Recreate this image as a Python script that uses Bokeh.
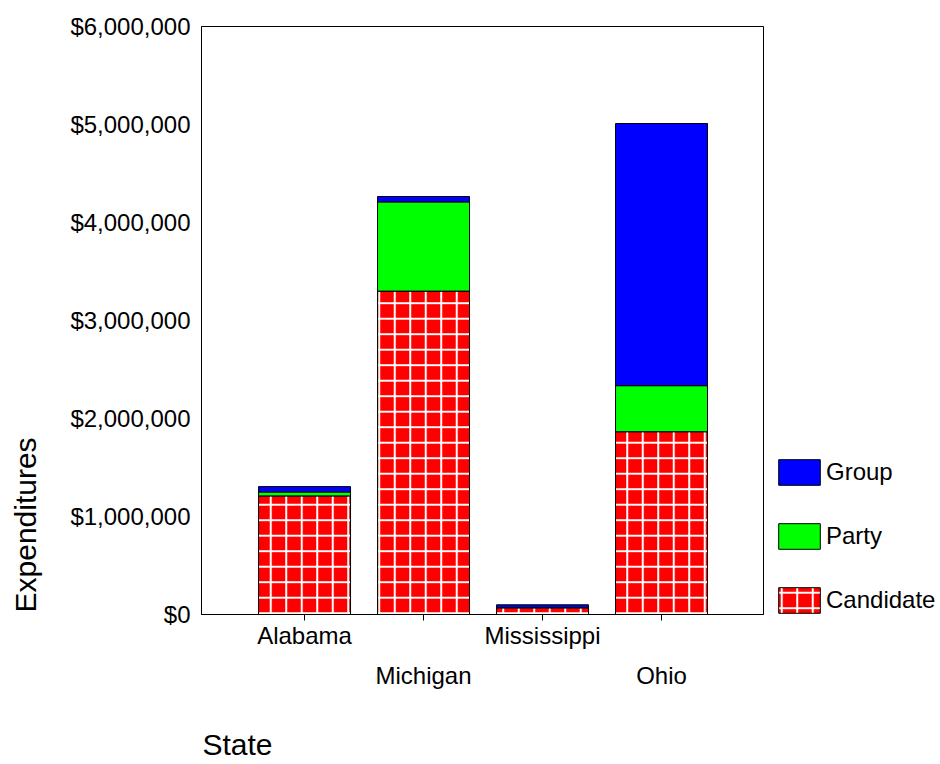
import math
from bokeh.plotting import figure
from bokeh.layouts import row, column
from bokeh.models import (Range1d, FixedTicker, NumeralTickFormatter, LinearAxis,
                          Legend, LegendItem, ColumnDataSource, Label)
from bokeh.embed import file_html
from bokeh.resources import INLINE

states = ["Alabama", "Michigan", "Mississippi", "Ohio"]
state_x = [1, 2, 3, 4]
candidate = [1210000, 3300000, 68000, 1865000]
party = [40000, 910000, 3000, 470000]
group = [55000, 55000, 28000, 2675000]
y_ticks = [0, 1000000, 2000000, 3000000, 4000000, 5000000, 6000000]
series = ["Candidate", "Party", "Group"]
colors = ["#FF0000", "#00FF00", "#0000FF"]
hatches = ["+", " ", " "]
x_title = "State"
y_title = "Expenditures"

FONT = "Liberation Sans"


def bare(fig):
    fig.outline_line_color = None
    fig.background_fill_color = "white"
    fig.border_fill_color = "white"
    return fig


src = ColumnDataSource(dict(x=state_x, Candidate=candidate, Party=party, Group=group))

# ---- main chart ----
p = figure(width=728, height=700, output_backend="svg", toolbar_location=None,
           x_range=Range1d(0.134, 4.857), y_range=Range1d(0, 6000000),
           min_border_left=156, min_border_right=10, min_border_top=26,
           min_border_bottom=86, x_axis_type=None, y_axis_type=None)
p.outline_line_color = "black"
p.outline_line_width = 1
p.background_fill_color = "white"
p.border_fill_color = "white"

rs = p.vbar_stack(series, x="x", width=0.773, source=src,
                  fill_color=colors, line_color="black", line_width=1,
                  hatch_pattern=hatches, hatch_color="white",
                  hatch_weight=2, hatch_scale=15.5)

yax = LinearAxis(ticker=FixedTicker(ticks=y_ticks),
                 formatter=NumeralTickFormatter(format="$0,0"))
yax.major_label_text_font = FONT
yax.major_label_text_font_size = "24px"
yax.major_label_text_color = "black"
yax.major_tick_out = 0
yax.major_tick_in = 0
yax.minor_tick_out = 0
yax.minor_tick_in = 0
yax.major_label_standoff = 11
yax.axis_line_color = "black"
p.add_layout(yax, "left")

xax1 = LinearAxis(ticker=FixedTicker(ticks=state_x))
xax1.major_label_overrides = {1: states[0], 2: "", 3: states[2], 4: ""}
xax1.major_label_text_font = FONT
xax1.major_label_text_font_size = "24px"
xax1.major_label_text_color = "black"
xax1.major_tick_out = 6
xax1.major_tick_in = 0
xax1.minor_tick_out = 0
xax1.minor_tick_in = 0
xax1.major_tick_line_color = "black"
xax1.major_label_standoff = 1
xax1.axis_line_color = "black"
p.add_layout(xax1, "below")

xax2 = LinearAxis(ticker=FixedTicker(ticks=state_x))
xax2.major_label_overrides = {1: "", 2: states[1], 3: "", 4: states[3]}
xax2.major_label_text_font = FONT
xax2.major_label_text_font_size = "24px"
xax2.major_label_text_color = "black"
xax2.major_tick_out = 0
xax2.major_tick_in = 0
xax2.minor_tick_out = 0
xax2.minor_tick_in = 0
xax2.major_tick_line_color = None
xax2.axis_line_color = None
xax2.major_label_standoff = 10
p.add_layout(xax2, "below")

# ---- y title strip (left) ----
py = bare(figure(width=45, height=700, output_backend="svg", toolbar_location=None,
                 x_range=Range1d(0, 1), y_range=Range1d(0, 1),
                 min_border_left=0, min_border_right=0, min_border_top=26,
                 min_border_bottom=86, x_axis_type=None, y_axis_type=None))
py.add_layout(Label(x=25, y=2, x_units="screen", y_units="screen", text=y_title,
                    angle=math.pi / 2, text_align="left", text_baseline="middle",
                    text_font=FONT, text_font_size="30px", text_color="black"))

# ---- legend strip (right); its bars lie outside its ranges, only the legend shows ----
pl = bare(figure(width=167, height=700, output_backend="svg", toolbar_location=None,
                 x_range=Range1d(-1000, -999), y_range=Range1d(-20000000, -10000000),
                 min_border_left=0, min_border_right=0, min_border_top=26,
                 min_border_bottom=86, x_axis_type=None, y_axis_type=None))
lr = pl.vbar_stack(series, x="x", width=0.773, source=src,
                   fill_color=colors, line_color="black", line_width=1,
                   hatch_pattern=hatches, hatch_color="white",
                   hatch_weight=2, hatch_scale=15.5)
legend = Legend(items=[LegendItem(label=series[2], renderers=[lr[2]]),
                       LegendItem(label=series[1], renderers=[lr[1]]),
                       LegendItem(label=series[0], renderers=[lr[0]])],
                location=(0, -2), padding=0, margin=0, spacing=32,
                glyph_width=52, glyph_height=32, label_standoff=1,
                label_text_font=FONT, label_text_font_size="24px",
                label_text_color="black",
                border_line_alpha=0, background_fill_alpha=0)
pl.add_layout(legend)

# ---- x title strip (bottom) ----
px = bare(figure(width=940, height=64, output_backend="svg", toolbar_location=None,
                 x_range=Range1d(0, 1), y_range=Range1d(0, 1),
                 min_border_left=201, min_border_right=177, min_border_top=0,
                 min_border_bottom=0, x_axis_type=None, y_axis_type=None))
px.add_layout(Label(x=1, y=20, x_units="screen", y_units="screen", text=x_title,
                    text_align="left", text_baseline="middle",
                    text_font=FONT, text_font_size="30px", text_color="black"))

layout = column(row(py, p, pl, spacing=0), px, spacing=0)
open("out.html", "w").write(file_html(layout, INLINE))
